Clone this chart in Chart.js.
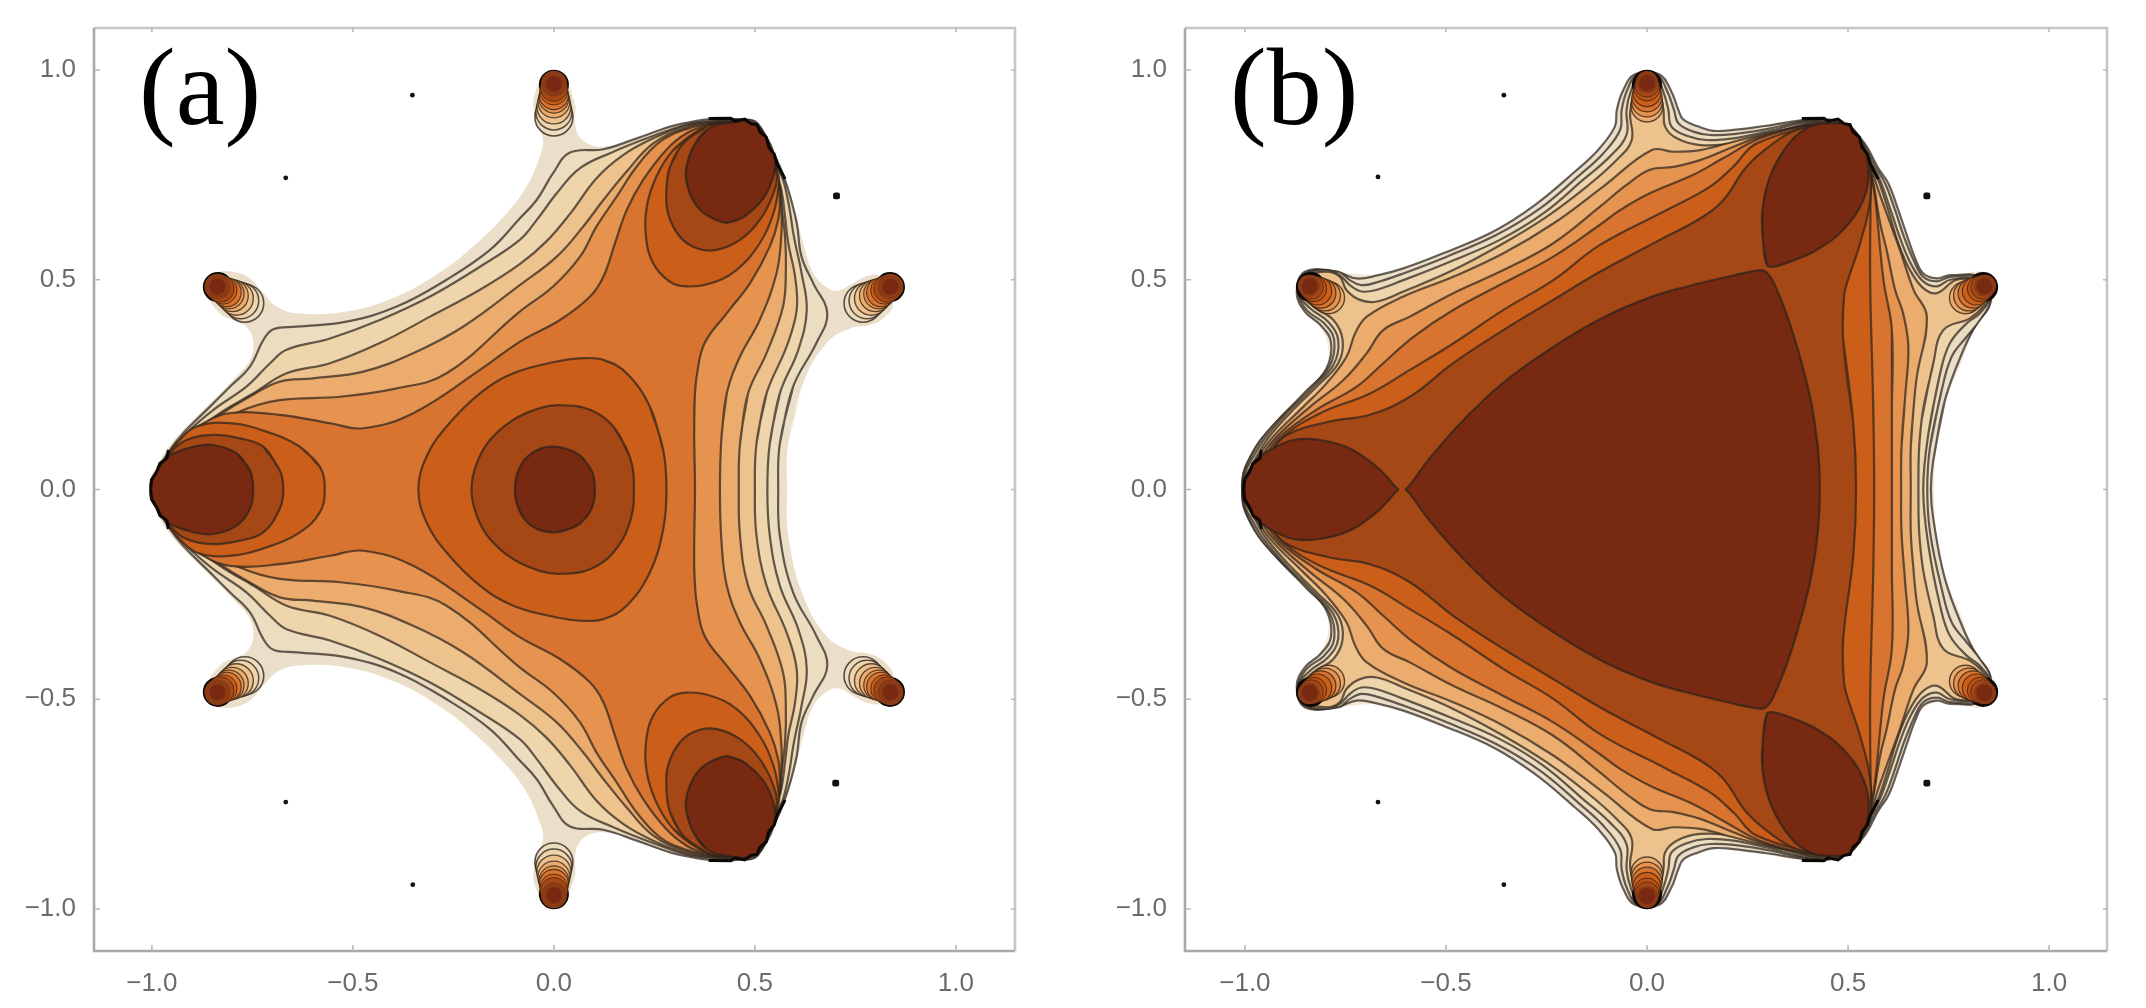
<!DOCTYPE html>
<html><head><meta charset="utf-8">
<style>
html,body{margin:0;background:#fff;width:2146px;height:1008px;overflow:hidden}
canvas{position:absolute;top:0;filter:blur(0.55px)}
.tag{position:absolute;top:32px;font:110px/110px "Liberation Serif",serif;color:#000;filter:blur(0.5px)}
</style>
<script src="https://cdn.jsdelivr.net/npm/chart.js@4/dist/chart.umd.js"></script>
</head><body>
<canvas id="ca" width="1073" height="1008" style="left:0"></canvas>
<canvas id="cb" width="1073" height="1008" style="left:1073px"></canvas>
<div class="tag" style="left:139px">(a)</div>
<div class="tag" style="left:1230px">(b)</div>
<script>
const tickValues=[-1,-0.5,0,0.5,1];
const tickLabels=['−1.0','−0.5','0.0','0.5','1.0'];
// Upper halves of the contours (y>=0); x,y in data units
const aOuter=[[.580,0],[.583,.110],[.620,.253],[.678,.349],[.736,.384],[.786,.392],[.819,.408],[.844,.444],[.811,.508],[.778,.508],[.745,.492],[.707,.474],[.678,.482],[.645,.516],[.620,.587],[.604,.651],[.583,.722],[.562,.770],[.537,.826],[.504,.873],[.463,.885],[.396,.885],[.322,.873],[.247,.853],[.197,.830],[.131,.818],[.090,.822],[.061,.845],[.052,.881],[.052,.921],[.015,.993],[-.027,.980],[-.047,.944],[-.051,.913],[-.043,.873],[-.027,.833],[-.035,.794],[-.068,.722],[-.118,.658],[-.192,.587],[-.275,.523],[-.391,.460],[-.516,.424],[-.640,.420],[-.690,.436],[-.723,.468],[-.756,.503],[-.798,.519],[-.839,.515],[-.864,.476],[-.831,.420],[-.789,.400],[-.765,.388],[-.748,.356],[-.756,.309],[-.798,.261],[-.864,.197],[-.930,.134],[-.964,.094],[-.993,.046],[-1.005,.023],[-1.005,0]];
const aLine1=[[.558,0],[.562,.110],[.595,.245],[.653,.349],[.680,.420],[.645,.492],[.616,.555],[.604,.635],[.583,.714],[.562,.770],[.537,.817],[.504,.875],[.463,.882],[.413,.884],[.371,.881],[.330,.874],[.289,.865],[.206,.837],[.123,.811],[.040,.803],[-.002,.754],[-.043,.690],[-.085,.646],[-.159,.571],[-.267,.500],[-.391,.436],[-.516,.400],[-.640,.388],[-.698,.382],[-.723,.356],[-.756,.293],[-.806,.245],[-.856,.197],[-.922,.134],[-.955,.094],[-.984,.046],[-.995,0]];
const aLine2=[[.531,0],[.537,.110],[.562,.229],[.608,.333],[.629,.428],[.616,.516],[.597,.603],[.585,.675],[.570,.738],[.550,.778],[.504,.872],[.454,.880],[.380,.877],[.330,.870],[.231,.837],[.148,.805],[.065,.766],[.007,.706],[-.043,.642],[-.085,.595],[-.184,.531],[-.308,.460],[-.433,.404],[-.557,.360],[-.665,.333],[-.706,.301],[-.765,.245],[-.847,.190],[-.914,.134],[-.947,.094],[-.976,.046],[-.987,0]];
const aLine3=[[.5,0],[.504,.110],[.529,.229],[.579,.341],[.604,.428],[.600,.507],[.583,.587],[.575,.651],[.564,.722],[.546,.770],[.512,.862],[.463,.878],[.405,.878],[.330,.867],[.247,.837],[.172,.797],[.106,.742],[.040,.657],[-.018,.592],[-.085,.537],[-.184,.476],[-.308,.412],[-.433,.349],[-.557,.301],[-.665,.277],[-.748,.229],[-.831,.182],[-.897,.134],[-.939,.090],[-.968,.046],[-.978,0]];
const aLine4=[[.460,0],[.463,.110],[.483,.229],[.529,.325],[.570,.436],[.577,.523],[.575,.603],[.566,.675],[.559,.730],[.537,.778],[.496,.868],[.454,.877],[.405,.875],[.330,.863],[.247,.825],[.181,.758],[.123,.690],[.073,.627],[.007,.555],[-.085,.487],[-.226,.388],[-.350,.325],[-.474,.281],[-.599,.265],[-.682,.257],[-.765,.217],[-.831,.178],[-.889,.134],[-.930,.090],[-.959,.046],[-.968,0]];
const aLine5=[[.413,0],[.417,.126],[.430,.229],[.463,.317],[.512,.404],[.554,.516],[.566,.611],[.566,.667],[.561,.722],[.537,.770],[.510,.840],[.470,.872],[.400,.873],[.330,.859],[.264,.829],[.206,.770],[.156,.698],[.106,.627],[.065,.555],[-.002,.484],[-.085,.424],[-.267,.277],[-.391,.241],[-.532,.221],[-.682,.213],[-.781,.186],[-.872,.134],[-.918,.090],[-.951,.046],[-.957,0]];
const aLine6=[[.351,0],[.349,.130],[.350,.210],[.356,.275],[.375,.349],[.430,.420],[.488,.492],[.537,.579],[.558,.643],[.562,.698],[.554,.754],[.525,.815],[.490,.860],[.430,.874],[.380,.868],[.330,.849],[.280,.810],[.222,.738],[.181,.666],[.152,.587],[.123,.507],[.090,.460],[.015,.404],[-.085,.352],[-.184,.285],[-.350,.182],[-.474,.146],[-.557,.158],[-.682,.178],[-.806,.182],[-.872,.158],[-.914,.126],[-.943,.090],[-.955,.046],[-.957,0]];
const aCentre1=[[.280,0],[.272,.094],[.239,.197],[.181,.277],[.123,.309],[.073,.313],[.007,.305],[-.101,.277],[-.184,.229],[-.267,.150],[-.317,.078],[-.337,0]];
const aCentre2=[[.199,0],[.189,.078],[.148,.150],[.090,.190],[.015,.201],[-.035,.194],[-.101,.166],[-.159,.118],[-.192,.062],[-.205,0]];
const aCentre3=[[.102,0],[.094,.045],[.066,.080],[.030,.097],[-.005,.102],[-.040,.095],[-.072,.072],[-.092,.035],[-.097,0]];
const aLeft1=[[-.570,0],[-.582,.054],[-.632,.102],[-.715,.138],[-.806,.158],[-.889,.150],[-.939,.110],[-.964,.078],[-.980,.031],[-.984,0]];
const aLeft2=[[-.673,0],[-.682,.046],[-.723,.102],[-.781,.122],[-.847,.130],[-.914,.118],[-.955,.086],[-.978,.040],[-.984,0]];
const aLeft3=[[-.748,0],[-.756,.046],[-.789,.086],[-.847,.106],[-.897,.102],[-.947,.086],[-.968,.070],[-.988,.043],[-1.003,.015],[-1.003,0]];
const aCorner1=[[.405,.871],[.355,.853],[.297,.809],[.255,.746],[.231,.674],[.229,.603],[.247,.539],[.289,.495],[.330,.484],[.388,.491],[.454,.523],[.512,.587],[.546,.658],[.558,.714],[.558,.754],[.529,.817],[.488,.865],[.430,.875],[.405,.871]];
const aCorner2=[[.380,.865],[.322,.825],[.289,.770],[.280,.714],[.284,.658],[.313,.603],[.355,.575],[.405,.571],[.463,.595],[.512,.642],[.546,.706],[.554,.754],[.529,.817],[.488,.865],[.430,.873],[.380,.865]];
const aCorner3=[[.380,.857],[.347,.817],[.331,.775],[.328,.745],[.338,.706],[.356,.675],[.380,.654],[.425,.636],[.455,.642],[.479,.654],[.521,.694],[.546,.746],[.550,.785],[.533,.833],[.496,.873],[.430,.873],[.380,.857]];

const bOuter=[[.714,0],[.716,.070],[.729,.158],[.749,.229],[.778,.293],[.807,.368],[.828,.412],[.857,.444],[.868,.476],[.853,.5],[.837,.519],[.787,.515],[.745,.507],[.704,.511],[.663,.539],[.638,.587],[.617,.642],[.596,.698],[.575,.746],[.551,.801],[.530,.841],[.497,.877],[.455,.885],[.389,.883],[.314,.873],[.248,.861],[.173,.849],[.107,.857],[.066,.889],[.045,.937],[.024,.972],[0,.996],[-.026,.984],[-.051,.936],[-.075,.873],[-.125,.794],[-.192,.714],[-.291,.634],[-.399,.575],[-.523,.531],[-.648,.511],[-.822,.519],[-.863,.499],[-.871,.468],[-.847,.424],[-.813,.388],[-.793,.340],[-.801,.285],[-.855,.221],[-.913,.158],[-.954,.110],[-.975,.078],[-1.0,.039],[-1.008,0]];
const bLine1=[[.706,0],[.712,.070],[.741,.213],[.787,.333],[.820,.396],[.853,.444],[.836,.503],[.754,.511],[.721,.503],[.687,.515],[.667,.551],[.646,.607],[.625,.666],[.600,.730],[.575,.766],[.538,.829],[.488,.873],[.405,.881],[.298,.867],[.215,.857],[.165,.855],[.128,.865],[.090,.882],[.078,.905],[.060,.950],[.030,.990],[-.030,.990],[-.060,.950],[-.075,.905],[-.080,.865],[-.121,.810],[-.179,.758],[-.279,.678],[-.382,.615],[-.507,.563],[-.606,.527],[-.668,.511],[-.722,.503],[-.772,.519],[-.851,.519],[-.871,.468],[-.851,.424],[-.812,.392],[-.786,.352],[-.797,.289],[-.851,.229],[-.917,.166],[-.967,.110],[-.989,.074],[-1.004,.039],[-1.007,0]];
const bLine2=[[.697,0],[.704,.102],[.733,.237],[.758,.317],[.795,.364],[.828,.404],[.855,.452],[.832,.503],[.754,.507],[.721,.496],[.687,.507],[.663,.547],[.639,.603],[.617,.666],[.592,.730],[.567,.770],[.534,.829],[.480,.873],[.405,.879],[.298,.859],[.215,.847],[.157,.845],[.115,.853],[.078,.873],[.067,.905],[.050,.950],[.025,.988],[-.025,.988],[-.050,.950],[-.063,.905],[-.067,.857],[-.109,.801],[-.167,.750],[-.266,.670],[-.374,.607],[-.498,.555],[-.606,.515],[-.668,.495],[-.710,.487],[-.739,.499],[-.768,.519],[-.851,.515],[-.867,.468],[-.847,.428],[-.803,.396],[-.778,.356],[-.790,.293],[-.845,.237],[-.909,.174],[-.961,.118],[-.985,.078],[-1.003,.039],[-1.006,0]];
const bLine3=[[.687,0],[.700,.134],[.729,.277],[.753,.348],[.795,.396],[.828,.420],[.853,.460],[.828,.5],[.754,.500],[.721,.484],[.687,.496],[.658,.535],[.631,.595],[.606,.666],[.581,.734],[.559,.774],[.530,.829],[.476,.873],[.405,.877],[.298,.853],[.215,.837],[.148,.833],[.099,.843],[.061,.865],[.053,.905],[.040,.950],[.020,.987],[-.020,.987],[-.040,.950],[-.051,.905],[-.051,.845],[-.092,.794],[-.158,.739],[-.258,.658],[-.366,.595],[-.490,.543],[-.606,.499],[-.672,.476],[-.710,.472],[-.739,.487],[-.764,.511],[-.797,.523],[-.851,.511],[-.867,.468],[-.838,.432],[-.793,.400],[-.768,.356],[-.780,.297],[-.834,.241],[-.900,.178],[-.954,.118],[-.979,.078],[-1.0,.039],[-1.004,0]];
const bLine4=[[.675,0],[.683,.166],[.712,.301],[.737,.380],[.803,.408],[.837,.436],[.857,.468],[.828,.495],[.770,.500],[.721,.468],[.687,.480],[.654,.523],[.625,.587],[.600,.666],[.575,.738],[.555,.778],[.522,.833],[.472,.869],[.405,.873],[.298,.845],[.215,.825],[.132,.821],[.074,.837],[.045,.865],[.041,.905],[.030,.950],[.015,.985],[-.015,.985],[-.030,.950],[-.042,.897],[-.038,.833],[-.075,.786],[-.150,.722],[-.250,.650],[-.357,.587],[-.482,.523],[-.606,.472],[-.672,.448],[-.714,.452],[-.747,.475],[-.764,.507],[-.797,.519],[-.847,.507],[-.859,.468],[-.830,.436],[-.780,.404],[-.757,.356],[-.768,.301],[-.822,.245],[-.888,.182],[-.946,.118],[-.971,.078],[-.992,.039],[-1.0,0]];
const bLine5=[[.656,0],[.656,.102],[.662,.182],[.671,.269],[.696,.412],[.663,.476],[.629,.571],[.596,.658],[.575,.714],[.559,.762],[.530,.825],[.480,.865],[.422,.875],[.381,.865],[.298,.849],[.215,.829],[.132,.809],[.066,.805],[.012,.809],[-.109,.722],[-.233,.634],[-.357,.563],[-.482,.507],[-.606,.460],[-.697,.412],[-.726,.372],[-.747,.317],[-.797,.253],[-.855,.197],[-.930,.126],[-.967,.078],[-.988,.039],[-.995,0]];
const bLine6=[[.632,0],[.633,.102],[.642,.221],[.650,.340],[.637,.420],[.617,.476],[.596,.571],[.580,.634],[.563,.730],[.551,.773],[.513,.833],[.455,.869],[.389,.866],[.281,.841],[.215,.817],[.132,.785],[.066,.769],[.007,.762],[-.051,.726],[-.117,.674],[-.233,.587],[-.357,.523],[-.482,.468],[-.590,.412],[-.656,.380],[-.697,.325],[-.755,.261],[-.838,.197],[-.921,.126],[-.959,.078],[-.979,.039],[-.987,0]];
const bLine7=[[.609,0],[.609,.182],[.609,.380],[.588,.5],[.567,.698],[.556,.754],[.538,.809],[.497,.853],[.447,.869],[.389,.865],[.281,.837],[.190,.790],[.115,.750],[.007,.706],[-.067,.666],[-.117,.631],[-.233,.555],[-.357,.492],[-.482,.428],[-.581,.364],[-.656,.301],[-.722,.245],[-.822,.190],[-.913,.126],[-.950,.078],[-.973,.039],[-.979,0]];
const bLine8=[[.565,0],[.563,.182],[.561,.261],[.555,.5],[.556,.698],[.556,.770],[.530,.825],[.488,.857],[.447,.869],[.273,.825],[.215,.770],[.157,.722],[.049,.666],[-.117,.583],[-.233,.499],[-.357,.428],[-.482,.348],[-.590,.285],[-.689,.229],[-.813,.182],[-.905,.126],[-.942,.078],[-.967,.039],[-.973,0]];
const bLine9=[[.520,0],[.513,.158],[.488,.356],[.490,.460],[.497,.491],[.530,.587],[.555,.690],[.551,.770],[.522,.825],[.480,.857],[.447,.869],[.372,.857],[.314,.825],[.248,.770],[.190,.690],[.132,.646],[.032,.595],[-.117,.519],[-.233,.452],[-.357,.380],[-.482,.301],[-.590,.221],[-.689,.178],[-.789,.162],[-.896,.130],[-.938,.086],[-.963,.043],[-.969,0]];
const bCentre=[[.430,0],[.425,.100],[.410,.200],[.385,.300],[.350,.410],[.314,.495],[.300,.515],[.285,.523],[.200,.507],[.100,.484],[.0075,.458],[-.109,.410],[-.233,.340],[-.357,.255],[-.457,.165],[-.540,.075],[-.578,.026],[-.592,.008],[-.600,0]];
const bLeft=[[-.619,0],[-.628,.009],[-.645,.028],[-.672,.054],[-.739,.098],[-.813,.118],[-.880,.118],[-.938,.094],[-.967,.074],[-.992,.043],[-1.006,.015],[-1.006,0]];
const bCorner=[[.298,.535],[.289,.587],[.287,.666],[.306,.746],[.347,.817],[.397,.861],[.455,.873],[.505,.865],[.538,.817],[.551,.762],[.538,.690],[.488,.619],[.422,.571],[.356,.543],[.314,.531],[.298,.535]];

const rimCorner=[[.575,.740],[.556,.775],[.548,.800],[.535,.815],[.528,.840],[.512,.853],[.505,.870],[.490,.872],[.475,.883],[.450,.878],[.440,.885],[.385,.884]];
const rimLeft=[[-.959,.094],[-.963,.074],[-.980,.062],[-.988,.043],[-1.001,.023],[-1.003,0]];

// Small tips: one list per nested level, centres of the upper three tips
const aTips=[
[[0,.965],[-.836,.4825],[.836,.4825]],
[[0,.888],[-.769,.444],[.769,.444]],
[[0,.900],[-.779,.450],[.779,.450]],
[[0,.912],[-.790,.456],[.790,.456]],
[[0,.924],[-.800,.462],[.800,.462]],
[[0,.933],[-.808,.4665],[.808,.4665]],
[[0,.940],[-.814,.470],[.814,.470]],
[[0,.950],[-.823,.475],[.823,.475]],
[[0,.957],[-.829,.4785],[.829,.4785]],
[[0,.967],[-.837,.4835],[.837,.4835]],
[[0,.967],[-.837,.4835],[.837,.4835]]];
const bTips=[
[[0,.965],[-.836,.4825],[.836,.4825]],
[[0,.914],[-.792,.457],[.792,.457]],
[[0,.925],[-.801,.4625],[.801,.4625]],
[[0,.936],[-.811,.468],[.811,.468]],
[[0,.946],[-.819,.473],[.819,.473]],
[[0,.957],[-.829,.4785],[.829,.4785]],
[[0,.964],[-.835,.482],[.835,.482]],
[[0,.971],[-.841,.4855],[.841,.4855]],
[[0,.969],[-.839,.4845],[.839,.4845]]];

const aDotsSmall=[[-.352,.940],[-.667,.743],[-.351,-.942],[-.667,-.745]];
const aDotsBig=[[.703,.700],[.701,-.700]];
const bDotsSmall=[[-.356,.940],[-.669,.745],[-.356,-.942],[-.669,-.745]];
const bDotsBig=[[.696,.700],[.696,-.700]];

// Styling
const L=['#ebdfc9','#ecdcc0','#eed5ac','#eec28c','#ecac6d','#e5934f','#d8742f','#cb5e18','#a64816','#772911'];
const lineCol='rgba(45,35,28,0.72)';
const toXY=p=>p.map(([x,y])=>({x,y}));
const flip=p=>p.map(([x,y])=>[x,-y]);
// the curve is run a little past its start so that the join stays smooth
const closed=p=>toXY([...p.slice(1),...flip(p.slice(1,-1)).reverse(),p[0],p[1],p[2]]);
const ring=p=>toXY([...p,p[1],p[2]]);
const open=p=>toXY(p);

function shape(data,color,stroke=true){return{data,showLine:true,fill:'shape',backgroundColor:color,borderColor:stroke?lineCol:'rgba(0,0,0,0)',borderWidth:stroke?2.2:0,tension:.4,pointRadius:0}}
function rim(p){return{data:open(p),showLine:true,fill:false,borderColor:'#0b0705',borderWidth:3,tension:0,pointRadius:0}}
function dots(p,r,style){return{data:open(p),showLine:false,pointStyle:style,pointRadius:r,pointBackgroundColor:'#111',pointBorderColor:'#111',pointBorderWidth:0}}
function tips(levels,radii,colors,strokes){return levels.map((lv,i)=>({data:open([...lv,...flip(lv)]),showLine:false,pointRadius:radii[i],pointBackgroundColor:colors[i],pointBorderColor:'rgba(40,28,20,.75)',pointBorderWidth:strokes[i]}))}

const frame={id:'frame',afterDraw(c){const{left:l,right:r,top:t,bottom:b}=c.chartArea,x=c.ctx;
 x.save();x.lineWidth=2.6;
 x.strokeStyle='#c6c6c6';x.beginPath();x.moveTo(l,t);x.lineTo(r,t);x.lineTo(r,b);x.stroke();
 x.strokeStyle='#a9a9a9';x.beginPath();x.moveTo(l,t);x.lineTo(l,b);x.lineTo(r,b);x.stroke();
 x.lineWidth=1.6;x.strokeStyle='#b8b8b8';x.beginPath();
 tickValues.forEach(v=>{const px=c.scales.x.getPixelForValue(v),py=c.scales.y.getPixelForValue(v);
  x.moveTo(px,b);x.lineTo(px,b-6);x.moveTo(px,t);x.lineTo(px,t+4);
  x.moveTo(l,py);x.lineTo(l+6,py);x.moveTo(r,py);x.lineTo(r-4,py);});
 x.stroke();x.restore();}};

function axis(min,max,isX,size){return{type:'linear',min,max,position:isX?'bottom':'left',
 grid:{display:false},border:{display:false},
 afterBuildTicks(s){s.ticks=tickValues.map(value=>({value}))},
 afterFit(s){if(isX)s.height=size;else s.width=size},
 ticks:{color:'#6b6b6b',font:{family:'"Liberation Sans",sans-serif',size:26},padding:isX?9:10,maxRotation:0,autoSkip:false,callback:v=>tickLabels[tickValues.indexOf(v)]}}}

function build(id,sets,xr,yAxisW,padR){
 const n=sets.length;sets.forEach((s,i)=>s.order=n-i);
 new Chart(document.getElementById(id),{type:'scatter',data:{datasets:sets},plugins:[frame],options:{
  responsive:false,animation:false,events:[],layout:{padding:{top:28,right:padR,left:0,bottom:0}},
  plugins:{legend:{display:false},tooltip:{enabled:false},title:{display:false}},
  scales:{x:axis(xr[0],xr[1],true,57),y:axis(-1.10,1.10,false,yAxisW)}}});
}

build('ca',[
 shape(closed(aOuter),L[0],false),
 shape(closed(aLine1),L[1]),shape(closed(aLine2),L[2]),shape(closed(aLine3),L[3]),
 shape(closed(aLine4),L[4]),shape(closed(aLine5),L[5]),shape(closed(aLine6),L[6]),
 shape(closed(aCentre1),L[7]),shape(closed(aLeft1),L[7]),shape(ring(aCorner1),L[7]),shape(ring(flip(aCorner1)),L[7]),
 shape(closed(aCentre2),L[8]),shape(closed(aLeft2),L[8]),shape(ring(aCorner2),L[8]),shape(ring(flip(aCorner2)),L[8]),
 shape(closed(aCentre3),L[9]),shape(closed(aLeft3),L[9]),shape(ring(aCorner3),L[9]),shape(ring(flip(aCorner3)),L[9]),
 rim(rimCorner),rim(flip(rimCorner)),rim(rimLeft),rim(flip(rimLeft)),
 ...tips(aTips,[15,19,18,17,16,15,14.5,14,13.5,13,8],['#0b0705',L[1],L[2],L[3],L[4],L[5],L[6],L[7],L[8],'#8a3a14',L[9]],[0,1.6,1.5,1.4,1.3,1.2,1.1,1,.8,0,0]),
 dots(aDotsSmall,2.4,'circle'),dots(aDotsBig,4,'rectRounded')
],[-1.144,1.147],94,58);

build('cb',[
 shape(closed(bOuter),'#f4e8d4',false),
 shape(closed(bLine1),L[0]),shape(closed(bLine2),L[1]),shape(closed(bLine3),L[2]),shape(closed(bLine4),L[3]),
 shape(closed(bLine5),L[4]),shape(closed(bLine6),L[5]),shape(closed(bLine7),L[6]),shape(closed(bLine8),L[7]),shape(closed(bLine9),L[8]),
 shape(closed(bCentre),L[9]),shape(closed(bLeft),L[9]),shape(ring(bCorner),L[9]),shape(ring(flip(bCorner)),L[9]),
 rim(rimCorner),rim(flip(rimCorner)),rim(rimLeft),rim(flip(rimLeft)),
 ...tips(bTips,[15,16,15.5,15,14,13,12,11,8],['#0b0705',L[4],L[5],L[6],L[7],'#b95214',L[8],'#8a3a14',L[9]],[0,1.4,1.3,1.2,1.1,1,.8,0,0]),
 dots(bDotsSmall,2.4,'circle'),dots(bDotsBig,4,'rectRounded')
],[-1.149,1.144],112,39);
</script>
</body></html>
